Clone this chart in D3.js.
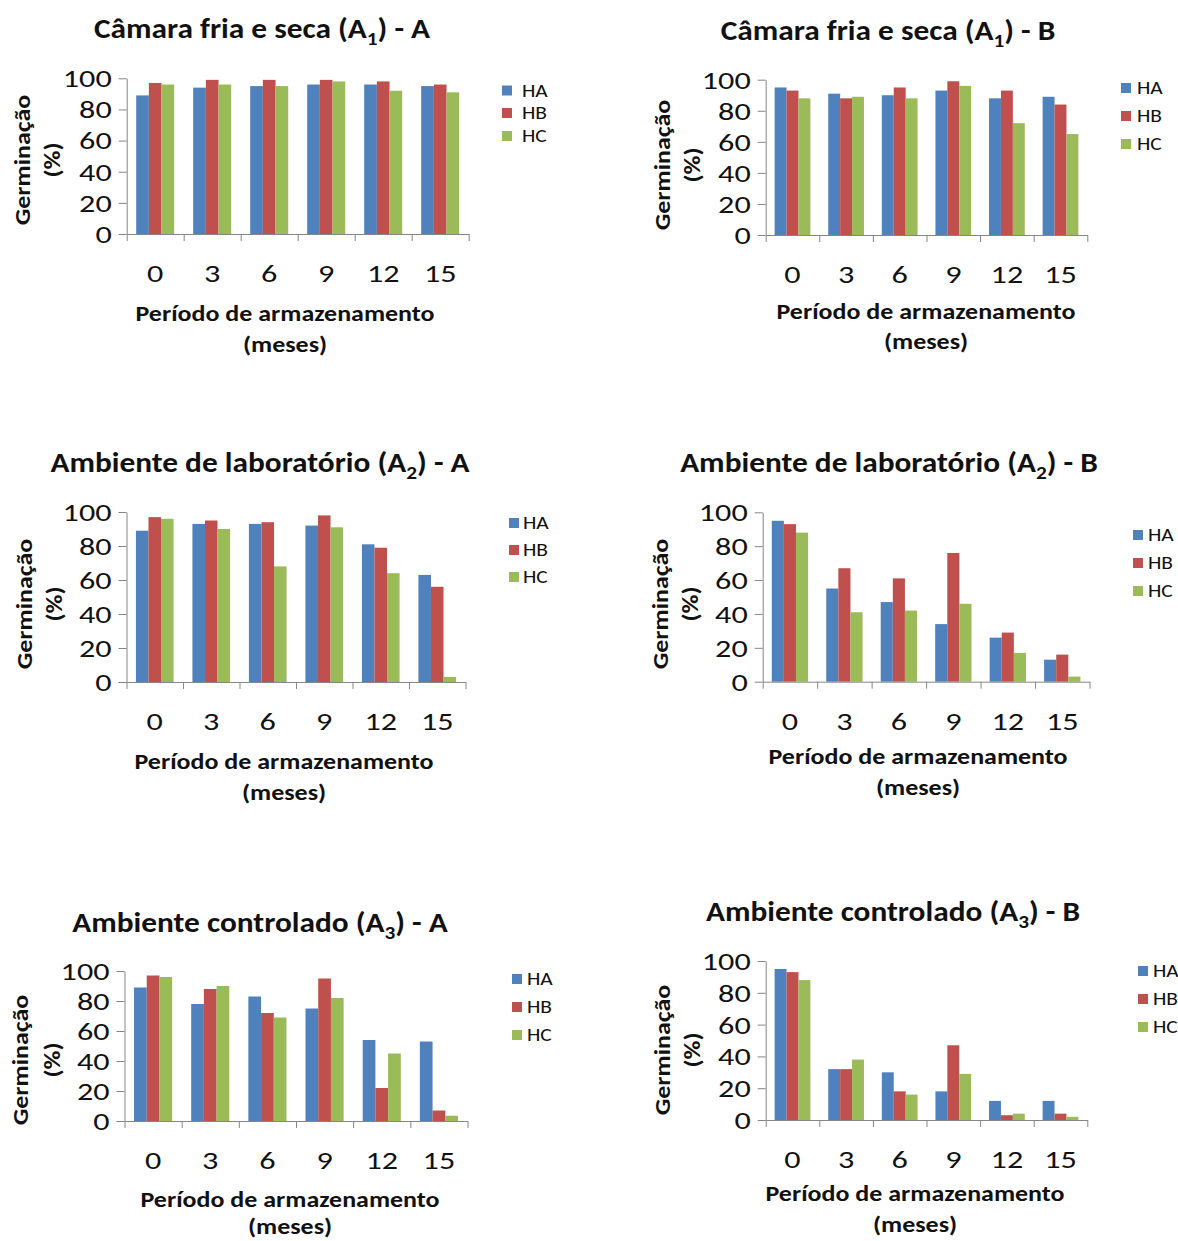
<!DOCTYPE html>
<html>
<head>
<meta charset="utf-8">
<script src="https://cdn.jsdelivr.net/npm/d3@7"></script>
<style>
  body { margin: 0; background: #fff; }
  svg { display: block; }
  text { font-family: Carlito, Lato, "Liberation Sans", sans-serif; fill: #111; }
</style>
</head>
<body>
<svg id="chart" width="1178" height="1241"></svg>
<script>
// Storage periods (months), humidity levels and y ticks
const months = ["0", "3", "6", "9", "12", "15"];
const seriesNames = ["HA", "HB", "HC"];
const yTicks = [0, 20, 40, 60, 80, 100];
const seriesColors = ["#4F81BD", "#C0504D", "#9BBB59"];

// Germination (%) — cold dry chamber (A1)
const camaraA_HA = [89, 94, 95, 96, 96, 95];
const camaraA_HB = [97, 99, 99, 99, 98, 96];
const camaraA_HC = [96, 96, 95, 98, 92, 91];
const camaraB_HA = [95, 91, 90, 93, 88, 89];
const camaraB_HB = [93, 88, 95, 99, 93, 84];
const camaraB_HC = [88, 89, 88, 96, 72, 65];

// Germination (%) — laboratory environment (A2)
const labA_HA = [89, 93, 93, 92, 81, 63];
const labA_HB = [97, 95, 94, 98, 79, 56];
const labA_HC = [96, 90, 68, 91, 64, 3];
const labB_HA = [95, 55, 47, 34, 26, 13];
const labB_HB = [93, 67, 61, 76, 29, 16];
const labB_HC = [88, 41, 42, 46, 17, 3];

// Germination (%) — controlled environment (A3)
const ctrlA_HA = [89, 78, 83, 75, 54, 53];
const ctrlA_HB = [97, 88, 72, 95, 22, 7];
const ctrlA_HC = [96, 90, 69, 82, 45, 3.5];
const ctrlB_HA = [95, 32, 30, 18, 12, 12];
const ctrlB_HB = [93, 32, 18, 47, 3, 4];
const ctrlB_HC = [88, 38, 16, 29, 4, 2];

// Panel titles: main text, subscript, suffix
const titles = [
  ["Câmara fria e seca (A", "1", ") - A"],
  ["Câmara fria e seca (A", "1", ") - B"],
  ["Ambiente de laboratório (A", "2", ") - A"],
  ["Ambiente de laboratório (A", "2", ") - B"],
  ["Ambiente controlado (A", "3", ") - A"],
  ["Ambiente controlado (A", "3", ") - B"]
];
const panelSeries = [
  [camaraA_HA, camaraA_HB, camaraA_HC],
  [camaraB_HA, camaraB_HB, camaraB_HC],
  [labA_HA, labA_HB, labA_HC],
  [labB_HA, labB_HB, labB_HC],
  [ctrlA_HA, ctrlA_HB, ctrlA_HC],
  [ctrlB_HA, ctrlB_HB, ctrlB_HC]
];

// Page layout of each panel
const layout = [
  { left: 126.7, right: 468.7, top: 78.3, bottom: 234, tx: 262, ty: 28, xtx: 285, xty1: 313, xty2: 344, ytx1: 22, ytx2: 52, yty: 160, lgX: 502, lgTX: 522, lgY: [90.5, 113, 136] },
  { left: 765.7, right: 1087.3, top: 79.7, bottom: 235, tx: 888, ty: 30, xtx: 926, xty1: 311, xty2: 341, ytx1: 662, ytx2: 692, yty: 165, lgX: 1121, lgTX: 1137, lgY: [88, 116, 144] },
  { left: 126.5, right: 465.5, top: 512, bottom: 682, tx: 260, ty: 462, xtx: 284, xty1: 761, xty2: 792, ytx1: 24, ytx2: 54, yty: 604, lgX: 509, lgTX: 523, lgY: [523, 550, 577] },
  { left: 762.7, right: 1089.5, top: 512.3, bottom: 681.7, tx: 889, ty: 462, xtx: 918, xty1: 756, xty2: 787, ytx1: 660, ytx2: 690, yty: 604, lgX: 1133, lgTX: 1148, lgY: [535, 563, 591] },
  { left: 124.5, right: 467.5, top: 971, bottom: 1121, tx: 260, ty: 922, xtx: 290, xty1: 1199, xty2: 1226, ytx1: 20, ytx2: 52, yty: 1060, lgX: 512, lgTX: 527, lgY: [979, 1007, 1035] },
  { left: 765.7, right: 1087.3, top: 961, bottom: 1120, tx: 893, ty: 911, xtx: 915, xty1: 1193, xty2: 1224, ytx1: 662, ytx2: 692, yty: 1050, lgX: 1138, lgTX: 1153, lgY: [971, 999, 1027] }
];

// Type settings (size in px, horizontal stretch)
const font = {
  title: { size: 28, sx: 1.12, weight: 700, sub: 19, subShift: 7 },
  axisTitle: { size: 23, sx: 1.13, weight: 700 },
  tick: { size: 24, sx: 1.34, weight: 400 },
  legend: { size: 18.5, sx: 1.16, weight: 400 }
};
const axisColor = "#868686";

const svg = d3.select("#chart");

function placeText(sel, x, y, f, extra) {
  sel.attr("font-size", f.size)
     .attr("font-weight", f.weight)
     .attr("dy", "0.35em")
     .attr("transform", `translate(${x},${y})${extra || ""} scale(${f.sx},1)`);
  return sel;
}

titles.forEach((t, i) => {
  const L = layout[i];
  const data = panelSeries[i];
  const g = svg.append("g");

  const y = d3.scaleLinear().domain([0, 100]).range([L.bottom, L.top]);
  const x0 = d3.scaleBand().domain(months).range([L.left, L.right]).padding(0);
  const x1 = d3.scaleBand().domain(seriesNames).range([0, x0.bandwidth()])
               .paddingInner(0).paddingOuter(0.75);
  const xEdge = d3.scaleLinear().domain([0, months.length]).range([L.left, L.right]);

  // Bars
  seriesNames.forEach((s, si) => {
    g.append("g").selectAll("rect")
      .data(months.map((m, mi) => ({ m, v: data[si][mi] })))
      .join("rect")
      .attr("x", d => x0(d.m) + x1(s))
      .attr("width", x1.bandwidth())
      .attr("y", d => y(d.v))
      .attr("height", d => y(0) - y(d.v))
      .attr("fill", seriesColors[si]);
  });

  // Y axis
  const ya = g.append("g")
    .attr("transform", `translate(${L.left},0)`)
    .call(d3.axisLeft(y).tickValues(yTicks).tickSize(8).tickSizeOuter(0));
  ya.selectAll("path,line").attr("stroke", axisColor);
  ya.selectAll("text").each(function () {
    d3.select(this).attr("x", 0).attr("font-family", null).attr("fill", "#111")
      .attr("font-size", font.tick.size)
      .attr("dy", "0.35em")
      .attr("transform", `translate(-15,0) scale(${font.tick.sx},1)`);
  });

  // X axis line with tick marks at category boundaries
  const xa = g.append("g")
    .attr("transform", `translate(0,${L.bottom})`)
    .call(d3.axisBottom(xEdge).tickValues(d3.range(months.length + 1))
          .tickSize(7).tickSizeOuter(0).tickFormat(""));
  xa.selectAll("path,line").attr("stroke", axisColor);

  // Category labels
  const xl = g.append("g")
    .attr("transform", `translate(0,${L.bottom})`)
    .call(d3.axisBottom(x0).tickSize(0).tickPadding(0));
  xl.select(".domain").remove();
  xl.selectAll("text").each(function () {
    d3.select(this).attr("y", 0).attr("dy", "0.35em")
      .attr("font-family", null).attr("fill", "#111")
      .attr("font-size", font.tick.size)
      .attr("transform", `translate(0,40) scale(${font.tick.sx},1)`);
  });

  // Title with subscript
  const tt = placeText(g.append("text").attr("text-anchor", "middle"), L.tx, L.ty, font.title);
  tt.append("tspan").text(t[0]);
  tt.append("tspan").attr("font-size", font.title.sub).attr("dy", font.title.subShift).text(t[1]);
  tt.append("tspan").attr("dy", -font.title.subShift).text(t[2]);

  // X axis title
  placeText(g.append("text").attr("text-anchor", "middle"), L.xtx, L.xty1, font.axisTitle)
    .text("Período de armazenamento");
  placeText(g.append("text").attr("text-anchor", "middle"), L.xtx, L.xty2, font.axisTitle)
    .text("(meses)");

  // Y axis title (rotated, two lines)
  placeText(g.append("text").attr("text-anchor", "middle"), L.ytx1, L.yty, font.axisTitle, " rotate(-90)")
    .text("Germinação");
  placeText(g.append("text").attr("text-anchor", "middle"), L.ytx2, L.yty, font.axisTitle, " rotate(-90)")
    .text("(%)");

  // Legend
  seriesNames.forEach((s, si) => {
    g.append("rect")
      .attr("x", L.lgX).attr("y", L.lgY[si] - 5)
      .attr("width", 10).attr("height", 10)
      .attr("fill", seriesColors[si]);
    placeText(g.append("text").attr("text-anchor", "start"), L.lgTX, L.lgY[si], font.legend)
      .text(s);
  });
});
</script>
</body>
</html>
